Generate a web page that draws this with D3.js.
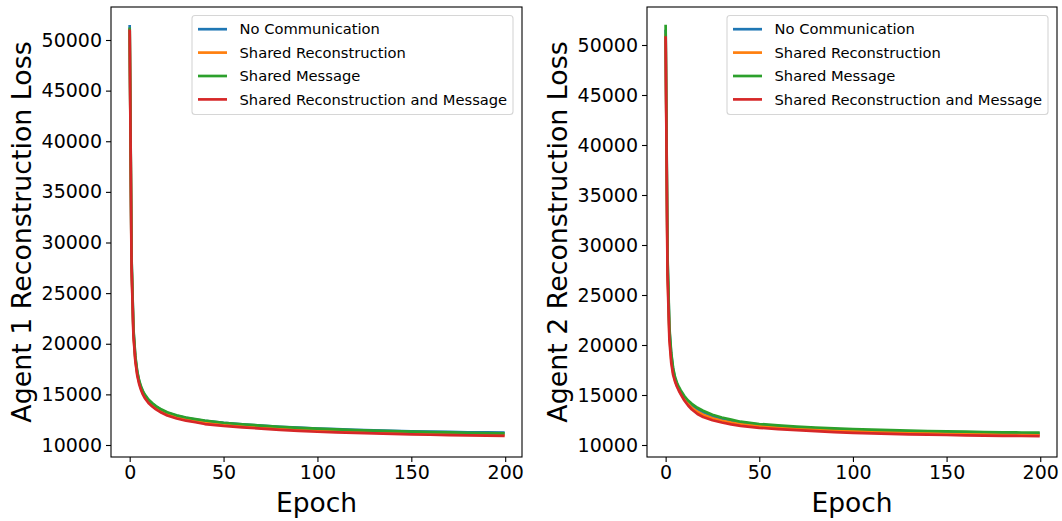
<!DOCTYPE html>
<html>
<head>
<meta charset="utf-8">
<script src="https://cdn.jsdelivr.net/npm/d3@7"></script>
<style>
  body { margin: 0; background: #fff; }
  svg { display: block; font-family: "DejaVu Sans", sans-serif; }
</style>
</head>
<body>
<svg id="chart" width="1062" height="521"></svg>
<script>
const epochs = [0, 1, 2, 3, 4, 5, 6, 7, 8, 10, 12, 14, 17, 20, 25, 30, 35, 40, 50, 60, 70, 80, 90, 100, 110, 120, 130, 140, 150, 160, 170, 180, 190, 199]

const seriesNames = ["No Communication", "Shared Reconstruction", "Shared Message", "Shared Reconstruction and Message"]

// agent 1
const a1NoComm = [51350, 28300, 21300, 18650, 17200, 16300, 15700, 15250, 14900, 14420, 14060, 13780, 13440, 13180, 12880, 12680, 12520, 12390, 12180, 12030, 11910, 11800, 11710, 11630, 11560, 11500, 11450, 11400, 11360, 11320, 11290, 11260, 11240, 11230]
const a1SharedRecon = [51000, 27800, 21000, 18450, 17050, 16200, 15600, 15150, 14800, 14300, 13950, 13680, 13330, 13060, 12760, 12540, 12380, 12200, 11990, 11850, 11720, 11600, 11500, 11420, 11350, 11290, 11230, 11180, 11130, 11090, 11060, 11030, 11010, 10990]
const a1SharedMsg = [51100, 28500, 21500, 18800, 17300, 16400, 15800, 15350, 15000, 14500, 14150, 13850, 13500, 13230, 12930, 12720, 12560, 12420, 12200, 12050, 11920, 11800, 11700, 11610, 11540, 11470, 11420, 11370, 11320, 11280, 11240, 11210, 11180, 11150]
const a1SharedBoth = [50900, 27500, 20800, 18300, 16900, 16050, 15450, 15000, 14650, 14150, 13800, 13520, 13180, 12920, 12620, 12400, 12250, 12070, 11880, 11740, 11620, 11500, 11390, 11310, 11250, 11190, 11140, 11090, 11050, 11010, 10980, 10950, 10930, 10910]

// agent 2
const a2NoComm = [51400, 28600, 21500, 19000, 17550, 16650, 16100, 15680, 15330, 14750, 14300, 13970, 13570, 13280, 12880, 12620, 12420, 12260, 12040, 11890, 11770, 11670, 11580, 11510, 11450, 11400, 11350, 11310, 11270, 11240, 11210, 11180, 11160, 11140]
const a2SharedRecon = [51000, 27800, 21000, 18600, 17250, 16450, 15950, 15550, 15200, 14580, 14130, 13720, 13320, 13030, 12680, 12430, 12240, 12100, 11890, 11750, 11640, 11540, 11460, 11390, 11330, 11280, 11230, 11190, 11150, 11120, 11090, 11060, 11040, 11020]
const a2SharedMsg = [51900, 29000, 21800, 19200, 17700, 16800, 16250, 15830, 15480, 14900, 14450, 14120, 13720, 13430, 13020, 12750, 12540, 12330, 12100, 11960, 11840, 11750, 11670, 11600, 11540, 11490, 11440, 11400, 11360, 11330, 11300, 11270, 11250, 11230]
const a2SharedBoth = [50730, 27000, 20500, 18200, 17000, 16350, 15850, 15450, 15100, 14450, 13950, 13550, 13100, 12800, 12480, 12250, 12060, 11920, 11720, 11580, 11480, 11380, 11290, 11220, 11160, 11110, 11070, 11030, 11000, 10970, 10940, 10920, 10900, 10880]

const xTicks = [0, 50, 100, 150, 200]
const yTicks = [10000, 15000, 20000, 25000, 30000, 35000, 40000, 45000, 50000]

const COLORS = ["#1f77b4", "#ff7f0e", "#2ca02c", "#d62728"]
const TOP = 7
const BOTTOM = 457

var svg = d3.select("#chart")

function drawPanel(left, right, yDomain, series, ylabel) {
    var x = d3.scaleLinear().domain([-9.95, 208.95]).range([left, right])
    var y = d3.scaleLinear().domain(yDomain).range([BOTTOM, TOP])
    var g = svg.append("g")

    // lines
    var line = d3.line()
        .x((d, i) => x(epochs[i]))
        .y(d => y(d))
    series.forEach(function (s, i) {
        g.append("path")
            .attr("d", line(s))
            .attr("fill", "none")
            .attr("stroke", COLORS[i])
            .attr("stroke-width", 2.7)
            .attr("stroke-linejoin", "round")
            .attr("stroke-linecap", "square")
    })

    // axes
    g.append("g")
        .attr("transform", "translate(0," + BOTTOM + ")")
        .call(d3.axisBottom(x).tickValues(xTicks).tickSize(5).tickPadding(4))
    g.append("g")
        .attr("transform", "translate(" + left + ",0)")
        .call(d3.axisLeft(y).tickValues(yTicks).tickFormat(d3.format("d")).tickSize(5).tickPadding(4))
    g.selectAll(".domain").remove()
    g.selectAll(".tick line").attr("stroke", "#000").attr("stroke-width", 1.1)
    g.selectAll(".tick text")
        .attr("font-family", "DejaVu Sans")
        .attr("font-size", 19)
        .attr("fill", "#000")

    // frame
    g.append("rect")
        .attr("x", left)
        .attr("y", TOP)
        .attr("width", right - left)
        .attr("height", BOTTOM - TOP)
        .attr("fill", "none")
        .attr("stroke", "#000")
        .attr("stroke-width", 1.1)

    g.append("text")
        .attr("x", (left + right) / 2)
        .attr("y", 512)
        .attr("text-anchor", "middle")
        .attr("font-size", 26.5)
        .text("Epoch")

    g.append("text")
        .attr("transform", "translate(" + (left - 80) + "," + ((TOP + BOTTOM) / 2) + ") rotate(-90)")
        .attr("text-anchor", "middle")
        .attr("font-size", 26.8)
        .text(ylabel)

    // legend, top right
    var lx = right - 330
    var ly = 15.5
    var legend = g.append("g")
    legend.append("rect")
        .attr("x", lx)
        .attr("y", ly)
        .attr("width", 321)
        .attr("height", 99)
        .attr("rx", 3)
        .attr("fill", "#fff")
        .attr("fill-opacity", 0.8)
        .attr("stroke", "#d6d6d6")
        .attr("stroke-width", 1.1)
    var item = legend.selectAll("g.item")
        .data(seriesNames)
        .enter().append("g")
        .attr("class", "item")
        .attr("transform", (d, i) => "translate(" + lx + "," + (ly + 13.7 + i * 23.4) + ")")
    item.append("line")
        .attr("x1", 6)
        .attr("x2", 35)
        .attr("stroke", (d, i) => COLORS[i])
        .attr("stroke-width", 2.7)
    item.append("text")
        .attr("x", 47.5)
        .attr("dy", "0.36em")
        .attr("font-size", 14.7)
        .text(d => d)
}

drawPanel(111, 522, [8815, 53259], [a1NoComm, a1SharedRecon, a1SharedMsg, a1SharedBoth], "Agent 1 Reconstruction Loss")
drawPanel(647, 1057, [8800, 53800], [a2NoComm, a2SharedRecon, a2SharedMsg, a2SharedBoth], "Agent 2 Reconstruction Loss")
</script>
</body>
</html>
